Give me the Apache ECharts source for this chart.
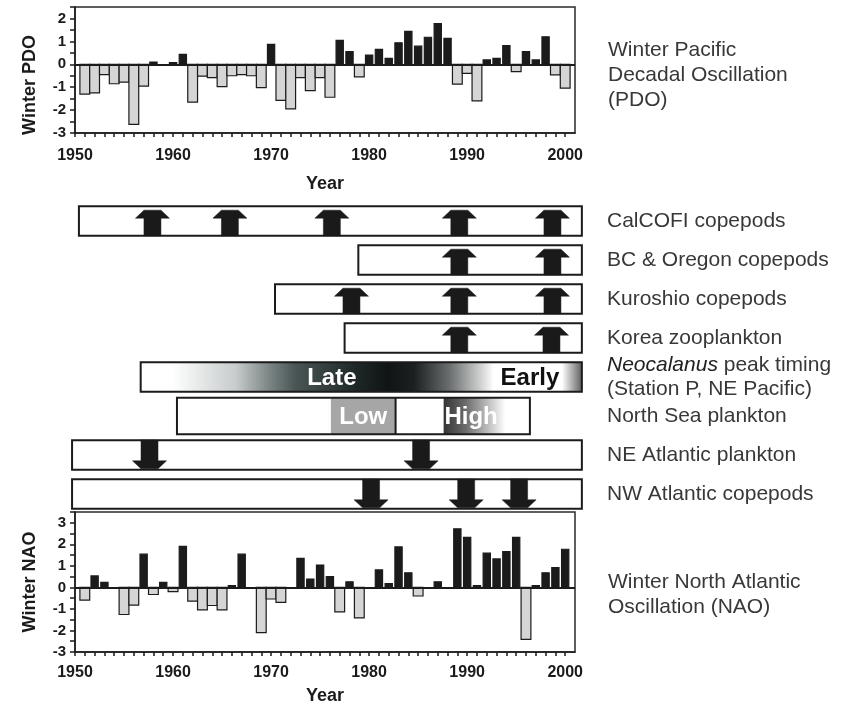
<!DOCTYPE html>
<html>
<head>
<meta charset="utf-8">
<script src="https://cdn.jsdelivr.net/npm/echarts@6/dist/echarts.min.js"></script>
<style>
  html, body { margin: 0; padding: 0; background: #ffffff; }
  #chart { width: 857px; height: 705px; }
</style>
</head>
<body>
<div id="chart"></div>
<script>
// Winter years of the two climate indices
const years = [1951, 1952, 1953, 1954, 1955, 1956, 1957, 1958, 1959, 1960,
               1961, 1962, 1963, 1964, 1965, 1966, 1967, 1968, 1969, 1970,
               1971, 1972, 1973, 1974, 1975, 1976, 1977, 1978, 1979, 1980,
               1981, 1982, 1983, 1984, 1985, 1986, 1987, 1988, 1989, 1990,
               1991, 1992, 1993, 1994, 1995, 1996, 1997, 1998, 1999, 2000];

// Winter Pacific Decadal Oscillation index
const pdo = [-1.30, -1.25, -0.45, -0.85, -0.78, -2.62, -0.95, 0.10, 0.00, 0.07,
              0.43, -1.65, -0.52, -0.58, -0.98, -0.50, -0.45, -0.50, -1.02, 0.87,
             -1.58, -1.95, -0.58, -1.15, -0.58, -1.44, 1.04, 0.55, -0.55, 0.40,
              0.65, 0.26, 0.94, 1.44, 0.79, 1.18, 1.77, 1.13, -0.87, -0.40,
             -1.60, 0.19, 0.26, 0.82, -0.32, 0.55, 0.19, 1.20, -0.46, -1.04];

// Winter North Atlantic Oscillation index
const nao = [-0.59, 0.53, 0.23, 0.00, -1.26, -0.82, 1.54, -0.33, 0.23, -0.20,
              1.90, -0.64, -1.04, -0.84, -1.04, 0.08, 1.54, 0.00, -2.10, -0.54,
             -0.70, 0.00, 1.35, 0.39, 1.04, 0.50, -1.14, 0.26, -1.42, 0.00,
              0.81, 0.17, 1.88, 0.68, -0.40, 0.00, 0.26, 0.00, 2.72, 2.32,
              0.08, 1.59, 1.32, 1.66, 2.32, -2.41, 0.08, 0.68, 0.92, 1.77];

// Axis tick labels
const yearLabels = [1950, 1960, 1970, 1980, 1990, 2000];
const pdoLabels = [-3, -2, -1, 0, 1, 2];
const naoLabels = [-3, -2, -1, 0, 1, 2, 3];

// Plankton time series: name, first and last year covered
const rowNames = ['CalCOFI copepods', 'BC & Oregon copepods', 'Kuroshio copepods',
                  'Korea zooplankton', 'Neocalanus peak timing\n(Station P, NE Pacific)',
                  'North Sea plankton', 'NE Atlantic plankton', 'NW Atlantic copepods'];
const rowStart = [1950.4, 1978.9, 1970.4, 1977.5, 1956.7, 1960.4, 1949.7, 1949.7];
const rowEnd   = [2001.7, 2001.7, 2001.7, 2001.7, 2001.7, 1996.4, 2001.7, 2001.7];

// Shifts: [row, year, direction] (1 = increase, -1 = decrease)
const shifts = [
  [0, 1957.9, 1], [0, 1965.8, 1], [0, 1976.2, 1], [0, 1989.2, 1], [0, 1998.7, 1],
  [1, 1989.2, 1], [1, 1998.7, 1],
  [2, 1978.2, 1], [2, 1989.2, 1], [2, 1998.7, 1],
  [3, 1989.2, 1], [3, 1998.6, 1],
  [6, 1957.6, -1], [6, 1985.3, -1],
  [7, 1980.2, -1], [7, 1989.9, -1], [7, 1995.3, -1]
];

// Shaded phases inside a row: [row, from, to, kind]
const phases = [
  [4, 1956.7, 2001.7, 'timing'],
  [5, 1976.1, 1982.7, 'low'],
  [5, 1987.6, 1993.9, 'high']
];

// Phase captions: [row, centre year, text]
const phaseText = [
  [4, 1976.2, 'Late'],
  [4, 1996.4, 'Early'],
  [5, 1979.4, 'Low'],
  [5, 1990.4, 'High']
];

const FONT = '"Liberation Sans", Arial, Helvetica, sans-serif';
const INK = '#1b1b1b';
const allTickYears = [1950].concat(years);

function halfSteps(labels) {
  const out = [];
  labels.forEach(function (v) { out.push(v); out.push(v + 0.5); });
  return out;
}

function indexBar(params, api) {
  const yr = api.value(0);
  const v = api.value(1);
  if (!v) return null;
  const w = v < 0 ? 1.0 : 0.74;
  const a = api.coord([yr - w / 2, 0]);
  const b = api.coord([yr + w / 2, v]);
  return {
    type: 'rect',
    shape: { x: a[0], y: Math.min(a[1], b[1]), width: b[0] - a[0], height: Math.abs(b[1] - a[1]) },
    style: { fill: v < 0 ? '#d5d5d5' : INK, stroke: INK, lineWidth: 1.2 }
  };
}

function boxHeight(row, band) {
  return (row === 5 ? 0.94 : 0.76) * band;
}

function phaseFill(kind) {
  if (kind === 'timing') {
    return new echarts.graphic.LinearGradient(0, 0, 1, 0, [
      { offset: 0, color: '#ffffff' },
      { offset: 0.07, color: '#ffffff' },
      { offset: 0.215, color: '#c8cccc' },
      { offset: 0.29, color: '#7d8686' },
      { offset: 0.35, color: '#4a5555' },
      { offset: 0.49, color: '#1e2727' },
      { offset: 0.56, color: '#101414' },
      { offset: 0.62, color: '#1c2020' },
      { offset: 0.70, color: '#6a6e6e' },
      { offset: 0.776, color: '#d8d8d8' },
      { offset: 0.80, color: '#ffffff' },
      { offset: 0.955, color: '#ffffff' },
      { offset: 1, color: '#606060' }
    ]);
  }
  if (kind === 'high') {
    return new echarts.graphic.LinearGradient(0, 0, 1, 0, [
      { offset: 0, color: '#353535' },
      { offset: 0.35, color: '#6a6a6a' },
      { offset: 1, color: '#ffffff' }
    ]);
  }
  return '#a6a6a6';
}

const captionColor = { Late: '#ffffff', Early: '#111111', Low: '#ffffff', High: '#ffffff' };

function rowItem(params, api) {
  const r = api.value(0);
  const s = api.value(1);
  const e = api.value(2);
  const p0 = api.coord([s, r]);
  const p1 = api.coord([e, r]);
  const band = api.size([0, 1])[1];
  const h = boxHeight(r, band);
  const top = p0[1] - h / 2;
  const children = [{
    type: 'rect',
    shape: { x: p0[0], y: top, width: p1[0] - p0[0], height: h },
    style: { fill: '#ffffff' }
  }];
  phases.forEach(function (ph) {
    if (ph[0] !== r) return;
    const a = api.coord([ph[1], r]);
    const b = api.coord([ph[2], r]);
    children.push({
      type: 'rect',
      shape: { x: a[0], y: top, width: b[0] - a[0], height: h },
      style: { fill: phaseFill(ph[3]) }
    });
    if (ph[3] === 'low') {
      children.push({
        type: 'line',
        shape: { x1: b[0], y1: top, x2: b[0], y2: top + h },
        style: { stroke: INK, lineWidth: 2 }
      });
    }
  });
  phaseText.forEach(function (t) {
    if (t[0] !== r) return;
    const c = api.coord([t[1], r]);
    children.push({
      type: 'text',
      x: c[0], y: c[1] + 1,
      style: {
        text: t[2], fill: captionColor[t[2]],
        font: 'bold 24px ' + FONT, align: 'center', verticalAlign: 'middle'
      }
    });
  });
  children.push({
    type: 'rect',
    shape: { x: p0[0], y: top, width: p1[0] - p0[0], height: h },
    style: { fill: 'none', stroke: INK, lineWidth: 2 }
  });
  return { type: 'group', children: children };
}

function arrowItem(params, api) {
  const r = api.value(0);
  const yr = api.value(1);
  const dir = api.value(2);
  const c = api.coord([yr, r]);
  const band = api.size([0, 1])[1];
  const h = boxHeight(r, band);
  const W = 34, S = 17, T = 17, HH = 8;
  const x = c[0];
  let pts;
  if (dir > 0) {
    const b = c[1] + h / 2;
    const t = c[1] - h / 2 + 4;
    pts = [[x - S / 2, b], [x + S / 2, b], [x + S / 2, t + HH], [x + W / 2, t + HH],
           [x + T / 2, t], [x - T / 2, t], [x - W / 2, t + HH], [x - S / 2, t + HH]];
  } else {
    const t = c[1] - h / 2;
    const b = c[1] + h / 2 - 1;
    pts = [[x - S / 2, t], [x + S / 2, t], [x + S / 2, b - HH], [x + W / 2, b - HH],
           [x + T / 2, b], [x - T / 2, b], [x - W / 2, b - HH], [x - S / 2, b - HH]];
  }
  return { type: 'polygon', shape: { points: pts }, style: { fill: '#1a1a1a', stroke: '#1a1a1a', lineWidth: 0.5 } };
}

function yearAxis(gridIndex, labelMargin, nameGap) {
  return {
    type: 'value', gridIndex: gridIndex, min: 1950, max: 2001,
    axisLine: { show: true, onZero: false, lineStyle: { color: INK, width: 1.5 } },
    axisTick: { show: true, length: 4, customValues: allTickYears, lineStyle: { color: INK, width: 1.5 } },
    axisLabel: { customValues: yearLabels, margin: labelMargin, color: INK, fontSize: 16, fontWeight: 'bold', fontFamily: FONT,
      formatter: function (v) { return String(v); } },
    splitLine: { show: false },
    name: 'Year', nameLocation: 'middle', nameGap: nameGap,
    nameTextStyle: { fontSize: 18, fontWeight: 'bold', color: INK, fontFamily: FONT }
  };
}

function indexAxis(gridIndex, min, max, labels) {
  return {
    type: 'value', gridIndex: gridIndex, min: min, max: max,
    axisLine: { show: true, lineStyle: { color: INK, width: 1.5 } },
    axisTick: { show: true, length: 5, customValues: halfSteps(labels).filter(function (v) { return v <= max; }), lineStyle: { color: INK, width: 1.5 } },
    axisLabel: { customValues: labels, margin: 9, color: INK, fontSize: 15, fontWeight: 'bold', fontFamily: FONT },
    splitLine: { show: false }
  };
}

const chart = echarts.init(document.getElementById('chart'), null, { renderer: 'canvas' });

chart.setOption({
  backgroundColor: '#ffffff',
  animation: false,
  grid: [
    { left: 75, top: 7, width: 500, height: 126, outerBoundsMode: 'none', containLabel: false,
      show: true, borderColor: '#2a2a2a', borderWidth: 1.5, backgroundColor: 'transparent' },
    { left: 75, top: 201.5, width: 500, height: 312, outerBoundsMode: 'none', containLabel: false },
    { left: 75, top: 512, width: 500, height: 140, outerBoundsMode: 'none', containLabel: false,
      show: true, borderColor: '#2a2a2a', borderWidth: 1.5, backgroundColor: 'transparent' }
  ],
  xAxis: [
    yearAxis(0, 15, 42),
    { type: 'value', gridIndex: 1, min: 1950, max: 2001, show: false },
    yearAxis(2, 13, 35)
  ],
  yAxis: [
    indexAxis(0, -3, 2.5, pdoLabels),
    {
      type: 'category', gridIndex: 1, data: rowNames, inverse: true, position: 'right',
      axisLine: { show: false }, axisTick: { show: false }, splitLine: { show: false },
      axisLabel: {
        margin: 32, align: 'left', color: '#383838', fontSize: 21, fontFamily: FONT, lineHeight: 24,
        formatter: function (v) {
          return v.indexOf('Neocalanus') === 0 ? v.replace('Neocalanus', '{it|Neocalanus}') : v;
        },
        rich: { it: { fontStyle: 'italic', fontSize: 21, color: '#222222', fontFamily: FONT, lineHeight: 24 } }
      }
    },
    indexAxis(2, -3, 3.5, naoLabels)
  ],
  graphic: [
    { type: 'text', x: 30, y: 85, rotation: Math.PI / 2,
      style: { text: 'Winter PDO', font: 'bold 18px ' + FONT, fill: INK, align: 'center', verticalAlign: 'middle' } },
    { type: 'text', x: 30, y: 582, rotation: Math.PI / 2,
      style: { text: 'Winter NAO', font: 'bold 18px ' + FONT, fill: INK, align: 'center', verticalAlign: 'middle' } },
    { type: 'text', x: 608, y: 38,
      style: { text: 'Winter Pacific\nDecadal Oscillation\n(PDO)', font: '21px ' + FONT, lineHeight: 25, fill: '#383838', align: 'left', verticalAlign: 'top' } },
    { type: 'text', x: 608, y: 570,
      style: { text: 'Winter North Atlantic\nOscillation (NAO)', font: '21px ' + FONT, lineHeight: 25, fill: '#383838', align: 'left', verticalAlign: 'top' } }
  ],
  series: [
    {
      name: 'PDO', type: 'custom', xAxisIndex: 0, yAxisIndex: 0,
      data: years.map(function (y, i) { return [y, pdo[i]]; }),
      renderItem: indexBar,
      markLine: { silent: true, symbol: 'none', label: { show: false },
        lineStyle: { color: INK, width: 1.8, type: 'solid' }, data: [{ yAxis: 0 }] }
    },
    {
      name: 'NAO', type: 'custom', xAxisIndex: 2, yAxisIndex: 2,
      data: years.map(function (y, i) { return [y, nao[i]]; }),
      renderItem: indexBar,
      markLine: { silent: true, symbol: 'none', label: { show: false },
        lineStyle: { color: INK, width: 1.8, type: 'solid' }, data: [{ yAxis: 0 }] }
    },
    {
      name: 'Series', type: 'custom', xAxisIndex: 1, yAxisIndex: 1, clip: false,
      encode: { x: [1, 2], y: 0 },
      data: rowNames.map(function (n, i) { return [i, rowStart[i], rowEnd[i]]; }),
      renderItem: rowItem, z: 2
    },
    {
      name: 'Shifts', type: 'custom', xAxisIndex: 1, yAxisIndex: 1, clip: false,
      encode: { x: 1, y: 0 },
      data: shifts,
      renderItem: arrowItem, z: 3
    }
  ]
});
</script>
</body>
</html>
